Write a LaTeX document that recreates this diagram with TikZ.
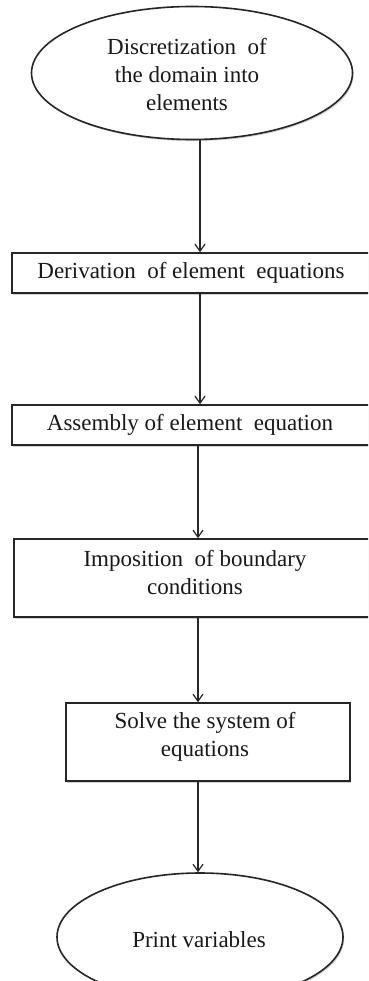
\documentclass[tikz,border=0pt]{standalone}
\usepackage{fontspec}
\setmainfont{Liberation Serif}
\usetikzlibrary{shapes.geometric,arrows.meta,shadows}
\begin{document}
\begin{tikzpicture}[x=1pt,y=1pt,
  shp/.style={draw=black!85,line width=1.6pt,fill=white,inner sep=0pt,
    drop shadow={shadow xshift=1.2pt,shadow yshift=-1.6pt,opacity=0.35}},
  ell/.style={shp,ellipse},
  boxshape/.style={shp,rectangle},
  txt/.style={align=center,font=\fontsize{23}{28}\selectfont,inner sep=0pt,text=black!90},
  arr/.style={draw=black!85,line width=1.4pt,-{Straight Barb[length=7pt,width=10pt,line width=1.2pt]}}
]
\useasboundingbox (0,0) rectangle (368,-981);
\clip (0,0) rectangle (368,-981);
\fill[white] (0,0) rectangle (368,-981);
% top ellipse
\node[ell,minimum width=321pt,minimum height=133pt] (e1) at (192,-73) {};
\node[txt] (t1) at (187,-75) {Discretization\ \ of\\the domain into\\elements};
% box 1
\node[boxshape,minimum width=376pt,minimum height=40pt] (b1) at (200,-273) {};
\node[txt] (t2) at (191,-273) {Derivation\ \ of element\ \ equations};
% box 2
\node[boxshape,minimum width=376pt,minimum height=40pt] (b2) at (200,-425) {};
\node[txt] (t3) at (190,-425) {Assembly of element\ \ equation};
% box 3
\node[boxshape,minimum width=372pt,minimum height=78pt] (b3) at (200,-578) {};
\node[txt] (t4) at (195,-573) {Imposition\ \ of boundary\\conditions};
% box 4
\node[boxshape,minimum width=284pt,minimum height=78pt] (b4) at (208,-742) {};
\node[txt] (t5) at (205,-737) {Solve the system of\\equations};
% bottom ellipse
\node[ell,minimum width=286pt,minimum height=128pt] (e2) at (200,-937) {};
\node[txt] (t6) at (199,-940) {Print variables};
% arrows
\coordinate (ax) at (200,0);
\coordinate (bx) at (198,0);
\draw[arr] (e1.south -| ax) -- (b1.north -| ax);
\draw[arr] (b1.south -| ax) -- (b2.north -| ax);
\draw[arr] (b2.south -| bx) -- (b3.north -| bx);
\draw[arr] (b3.south -| bx) -- (b4.north -| bx);
\draw[arr] (b4.south -| bx) -- (e2.north -| bx);
\end{tikzpicture}
\end{document}
